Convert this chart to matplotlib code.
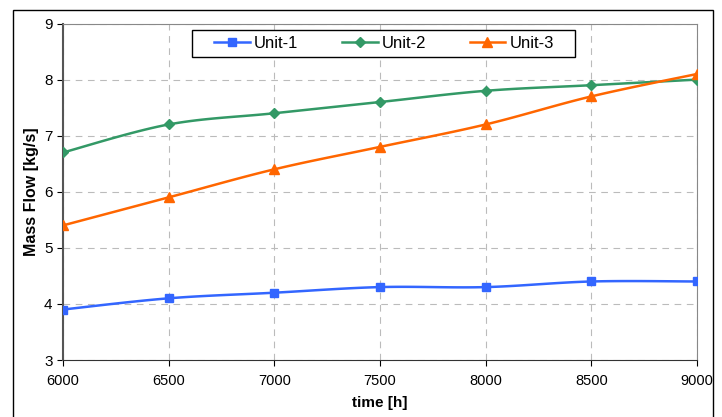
import numpy as np
import matplotlib.pyplot as plt
from matplotlib.patches import Rectangle

plt.rcParams['font.family'] = ['Liberation Sans', 'DejaVu Sans']

# Data
time_h = [6000, 6500, 7000, 7500, 8000, 8500, 9000]
unit1 = [3.9, 4.1, 4.2, 4.3, 4.3, 4.4, 4.4]
unit2 = [6.7, 7.2, 7.4, 7.6, 7.8, 7.9, 8.0]
unit3 = [5.4, 5.9, 6.4, 6.8, 7.2, 7.7, 8.1]
labels = ['Unit-1', 'Unit-2', 'Unit-3']
colors = ['#3366FF', '#339966', '#FF6600']
markers = ['s', 'D', '^']
msizes = [6, 5, 7]


def smooth(x, y, n=20):
    # Catmull-Rom curve through the points (like Excel's smoothed line)
    x = np.asarray(x, float)
    y = np.asarray(y, float)
    px = np.concatenate([[x[0]], x, [x[-1]]])
    py = np.concatenate([[y[0]], y, [y[-1]]])
    xs, ys = [], []
    t = np.linspace(0, 1, n)
    for i in range(1, len(px) - 2):
        for p, out in ((px, xs), (py, ys)):
            p0, p1, p2, p3 = p[i-1], p[i], p[i+1], p[i+2]
            out.extend(0.5*((2*p1) + (-p0+p2)*t + (2*p0-5*p1+4*p2-p3)*t**2
                            + (-p0+3*p1-3*p2+p3)*t**3))
    return xs, ys


fig = plt.figure(figsize=(7.22, 4.17), dpi=100)
ax = fig.add_axes([63/722, 1-360/417, (697-63)/722, (360-23.5)/417])

# outer chart border
fig.patches.append(Rectangle((13/722, -0.1), (713-13)/722, 1.1-10/417,
                             transform=fig.transFigure, fill=False,
                             edgecolor='black', linewidth=1))
# legend box
fig.patches.append(Rectangle((192/722, 1-57/417), (575-192)/722, 27/417,
                             transform=fig.transFigure, facecolor='white',
                             edgecolor='black', linewidth=1, zorder=5))

for ys, lab, c, m, ms in zip([unit1, unit2, unit3], labels, colors, markers, msizes):
    sx, sy = smooth(time_h, ys)
    ax.plot(sx, sy, color=c, linewidth=1.8, zorder=3)
    ax.plot(time_h, ys, linestyle='none', marker=m, color=c, markersize=ms, zorder=4)
    ax.plot([], [], color=c, linewidth=1.8, marker=m, markersize=ms, label=lab)

ax.set_xlim(6000, 9000)
ax.set_ylim(3, 9)
ax.set_xticks(time_h)
ax.set_yticks(range(3, 10))
ax.grid(True, color='#bbbbbb', linestyle=(0, (6, 5)), linewidth=0.8)
ax.set_axisbelow(True)
ax.tick_params(length=4, direction='out')
ax.tick_params(axis='x', labelsize=10.5, pad=6)
ax.tick_params(axis='y', labelsize=11)
for s in ['top', 'right']:
    ax.spines[s].set_color('#888888')
ax.spines['left'].set_color('#555555')
ax.spines['left'].set_linewidth(1.5)
ax.spines['bottom'].set_color('#333333')

ax.set_xlabel('time [h]', fontweight='bold', fontsize=11, labelpad=6)
ax.set_ylabel('Mass Flow [kg/s]', fontweight='bold', fontsize=11.5, labelpad=4)

leg = fig.legend(*ax.get_legend_handles_labels(), ncol=3, loc='center',
                 bbox_to_anchor=(384/722, 1-43.5/417), frameon=False,
                 fontsize=12, handlelength=2.15, columnspacing=2.6,
                 handletextpad=0.24, borderpad=0)
leg.set_zorder(6)

fig.savefig('out.png', dpi=100)
